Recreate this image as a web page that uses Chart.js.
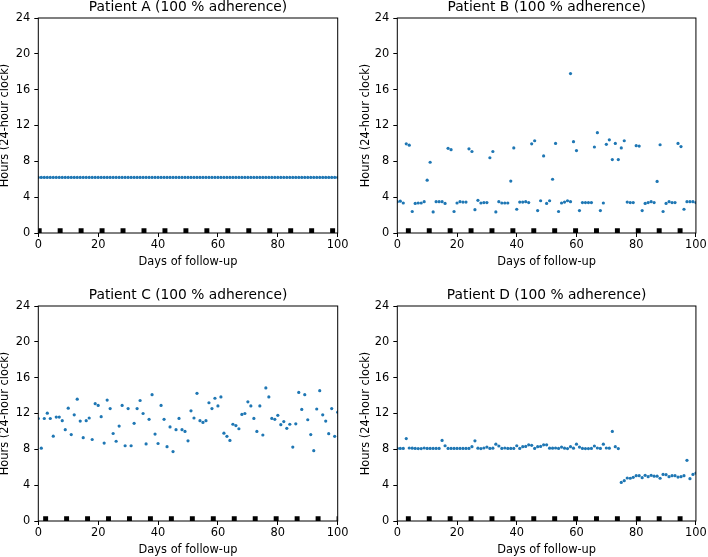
<!DOCTYPE html>
<html>
<head>
<meta charset="utf-8">
<script src="https://cdn.jsdelivr.net/npm/chart.js@4/dist/chart.umd.min.js"></script>
<style>
    body { margin: 0; background: #fff; }
    #wrap { position: relative; width: 708px; height: 557px; }
    canvas { position: absolute; }
</style>
</head>
<body>
<div id="wrap">
    <canvas id="chartA" width="354" height="269" style="left:0;top:0"></canvas>
    <canvas id="chartB" width="354" height="269" style="left:354px;top:0"></canvas>
    <canvas id="chartC" width="354" height="269" style="left:0;top:288px"></canvas>
    <canvas id="chartD" width="354" height="269" style="left:354px;top:288px"></canvas>
</div>
<script>
// days of follow-up (one dose per day)
const days = [0, 1, 2, 3, 4, 5, 6, 7, 8, 9, 10, 11, 12, 13, 14, 15, 16, 17, 18, 19,
    20, 21, 22, 23, 24, 25, 26, 27, 28, 29, 30, 31, 32, 33, 34, 35, 36, 37, 38, 39,
    40, 41, 42, 43, 44, 45, 46, 47, 48, 49, 50, 51, 52, 53, 54, 55, 56, 57, 58, 59,
    60, 61, 62, 63, 64, 65, 66, 67, 68, 69, 70, 71, 72, 73, 74, 75, 76, 77, 78, 79,
    80, 81, 82, 83, 84, 85, 86, 87, 88, 89, 90, 91, 92, 93, 94, 95, 96, 97, 98, 99, 100];

const hoursA = [6.2, 6.2, 6.2, 6.2, 6.2, 6.2, 6.2, 6.2, 6.2, 6.2, 6.2, 6.2, 6.2, 6.2, 6.2, 6.2, 6.2, 6.2, 6.2, 6.2,
    6.2, 6.2, 6.2, 6.2, 6.2, 6.2, 6.2, 6.2, 6.2, 6.2, 6.2, 6.2, 6.2, 6.2, 6.2, 6.2, 6.2, 6.2, 6.2, 6.2,
    6.2, 6.2, 6.2, 6.2, 6.2, 6.2, 6.2, 6.2, 6.2, 6.2, 6.2, 6.2, 6.2, 6.2, 6.2, 6.2, 6.2, 6.2, 6.2, 6.2,
    6.2, 6.2, 6.2, 6.2, 6.2, 6.2, 6.2, 6.2, 6.2, 6.2, 6.2, 6.2, 6.2, 6.2, 6.2, 6.2, 6.2, 6.2, 6.2, 6.2,
    6.2, 6.2, 6.2, 6.2, 6.2, 6.2, 6.2, 6.2, 6.2, 6.2, 6.2, 6.2, 6.2, 6.2, 6.2, 6.2, 6.2, 6.2, 6.2, 6.2, 6.2];

// patient B took two doses on day 58
const daysB = [0, 1, 2, 3, 4, 5, 6, 7, 8, 9, 10, 11, 12, 13, 14, 15, 16, 17, 18, 19,
    20, 21, 22, 23, 24, 25, 26, 27, 28, 29, 30, 31, 32, 33, 34, 35, 36, 37, 38, 39,
    40, 41, 42, 43, 44, 45, 46, 47, 48, 49, 50, 51, 52, 53, 54, 55, 56, 57, 58, 58, 59,
    60, 61, 62, 63, 64, 65, 66, 67, 68, 69, 70, 71, 72, 73, 74, 75, 76, 77, 78, 79,
    80, 81, 82, 83, 84, 85, 86, 87, 88, 89, 90, 91, 92, 93, 94, 95, 96, 97, 98, 99, 100];
const hoursB = [3.5, 3.55, 3.35, 9.95, 9.8, 2.4, 3.3, 3.35, 3.35, 3.5,
    5.9, 7.9, 2.35, 3.5, 3.5, 3.5, 3.3, 9.45, 9.3, 2.4,
    3.35, 3.5, 3.45, 3.45, 9.4, 9.1, 2.6, 3.65, 3.35, 3.4,
    3.4, 8.4, 9.1, 2.35, 3.5, 3.35, 3.35, 3.35, 5.8, 9.5,
    2.65, 3.45, 3.45, 3.5, 3.4, 9.95, 10.3, 2.5, 3.6, 8.6,
    3.3, 3.6, 6.0, 10.0, 2.4, 3.35, 3.45, 3.6, 3.5, 17.8, 10.2,
    9.2, 2.5, 3.4, 3.4, 3.4, 3.4, 9.6, 11.2, 2.5, 3.35,
    9.9, 10.4, 8.2, 10.0, 8.2, 9.5, 10.3, 3.45, 3.4, 3.4,
    9.75, 9.7, 2.5, 3.3, 3.4, 3.5, 3.4, 5.76, 9.85, 2.4,
    3.3, 3.5, 3.4, 3.4, 10.0, 9.65, 2.65, 3.5, 3.5, 3.5, 3.4];

const hoursC = [11.44, 8.13, 11.44, 12.04, 11.44, 9.47, 11.6, 11.6, 11.2, 10.2,
    12.6, 9.65, 11.85, 13.6, 11.15, 9.3, 11.2, 11.5, 9.1, 13.1,
    12.9, 11.65, 8.7, 13.5, 12.55, 9.77, 8.9, 10.6, 12.9, 8.4,
    12.55, 8.4, 10.9, 12.55, 13.45, 12.0, 8.6, 11.35, 14.1, 9.7,
    8.65, 12.9, 11.35, 8.3, 10.5, 7.75, 10.2, 11.45, 10.2, 10.0,
    8.95, 12.3, 11.5, 14.25, 11.2, 11.0, 11.2, 13.2, 12.55, 13.7,
    12.85, 13.85, 9.8, 9.45, 9.0, 10.8, 10.65, 10.3, 11.9, 12.0,
    13.3, 12.85, 11.45, 10.0, 12.85, 9.6, 14.85, 13.85, 11.45, 11.35,
    11.8, 10.75, 11.1, 10.35, 10.8, 8.25, 10.85, 14.35, 12.45, 14.1,
    11.3, 9.65, 7.85, 12.5, 14.55, 11.85, 11.15, 9.75, 12.55, 9.45, 12.15];

const hoursD = [8.1, 8.1, 8.1, 9.2, 8.15, 8.13, 8.1, 8.08, 8.08, 8.15,
    8.1, 8.1, 8.1, 8.1, 8.1, 9.0, 8.4, 8.1, 8.1, 8.1,
    8.1, 8.1, 8.1, 8.1, 8.1, 8.3, 8.95, 8.13, 8.08, 8.15,
    8.25, 8.1, 8.13, 8.58, 8.37, 8.1, 8.15, 8.1, 8.1, 8.1,
    8.4, 8.1, 8.3, 8.33, 8.5, 8.45, 8.1, 8.3, 8.33, 8.5,
    8.5, 8.13, 8.13, 8.15, 8.1, 8.25, 8.13, 8.08, 8.3, 8.13,
    8.58, 8.25, 8.1, 8.08, 8.08, 8.1, 8.37, 8.15, 8.1, 8.58,
    8.15, 8.13, 10.0, 8.3, 8.08, 4.31, 4.5, 4.8, 4.77, 4.88,
    5.06, 5.06, 4.84, 5.1, 4.95, 5.1, 5.0, 5.0, 4.77, 5.2,
    5.17, 4.95, 5.06, 5.06, 4.9, 4.95, 5.06, 6.77, 4.73, 5.2, 5.35];

// weekly visit markers (black squares on the x axis)
const visitsA = [0.3, 7.3, 14.3, 21.3, 28.3, 35.3, 42.3, 49.3, 56.3, 63.3, 70.3, 77.3, 84.3, 91.3, 98.3];
const visitsB = [3.7, 10.7, 17.7, 24.7, 31.7, 38.7, 45.7, 52.7, 59.7, 66.7, 73.7, 80.7, 87.7, 94.7];
const visitsC = [2.45, 9.45, 16.45, 23.45, 30.45, 37.45, 44.45, 51.45, 58.45, 65.45, 72.45, 79.45, 86.45, 93.45, 100.45];
const visitsD = [3.7, 10.7, 17.7, 24.7, 31.7, 38.7, 45.7, 52.7, 59.7, 66.7, 73.7, 80.7, 87.7, 94.7];
const visitLevel = 0.25;

const xTicks = [0, 20, 40, 60, 80, 100];
const yTicks = [0, 4, 8, 12, 16, 20, 24];

Chart.defaults.font.family = 'DejaVu Sans';
Chart.defaults.color = '#000';

// frame round the plot area plus the panel title centred over it
const framePlugin = {
    id: 'frame',
    afterDatasetsDraw(chart) {
        const a = chart.chartArea;
        const ctx = chart.ctx;
        ctx.save();
        ctx.strokeStyle = '#000';
        ctx.lineWidth = 1;
        ctx.strokeRect(a.left, a.top, a.right - a.left, a.bottom - a.top);
        ctx.restore();
    },
    afterDraw(chart) {
        const a = chart.chartArea;
        const ctx = chart.ctx;
        ctx.save();
        ctx.fillStyle = '#000';
        ctx.font = '13.8px "DejaVu Sans"';
        ctx.textAlign = 'center';
        ctx.textBaseline = 'middle';
        ctx.fillText(chart.options.panelTitle, (a.left + a.right) / 2, 7.5);
        ctx.restore();
    }
};

function makePanel(id, title, xs, ys, visits, padL, padR, yTitlePad) {
    new Chart(document.getElementById(id), {
        type: 'scatter',
        data: {
            datasets: [{
                data: xs.map((x, i) => ({ x: x, y: ys[i] })),
                pointRadius: 1.6,
                pointBackgroundColor: '#1f77b4',
                pointBorderWidth: 0
            }, {
                data: visits.map(x => ({ x: x, y: visitLevel })),
                pointStyle: 'rect',
                pointRadius: 3.5,
                pointBackgroundColor: '#000',
                pointBorderWidth: 0
            }]
        },
        options: {
            panelTitle: title,
            responsive: false,
            animation: false,
            events: [],
            layout: { padding: { top: 18, left: padL, right: padR, bottom: 0 } },
            scales: {
                x: {
                    min: 0,
                    max: 100,
                    afterFit: s => { s.height = 36; },
                    afterBuildTicks: s => { s.ticks = xTicks.map(v => ({ value: v })); },
                    border: { display: false },
                    grid: { drawOnChartArea: false, color: '#000', tickLength: 4 },
                    ticks: { font: { size: 11.4 }, padding: 1.2, maxRotation: 0 },
                    title: {
                        display: true,
                        text: 'Days of follow-up',
                        font: { size: 11.4 },
                        padding: { top: 0, bottom: 0.2 }
                    }
                },
                y: {
                    min: 0,
                    max: 24,
                    afterFit: s => { s.width = 38.3; },
                    afterBuildTicks: s => { s.ticks = yTicks.map(v => ({ value: v })); },
                    border: { display: false },
                    grid: { drawOnChartArea: false, color: '#000', tickLength: 4 },
                    ticks: { font: { size: 11.4 }, padding: 4 },
                    title: {
                        display: true,
                        text: 'Hours (24-hour clock)',
                        font: { size: 11.4, lineHeight: 1 },
                        padding: { top: yTitlePad, bottom: 0 }
                    }
                }
            },
            plugins: {
                legend: { display: false },
                tooltip: { enabled: false }
            }
        },
        plugins: [framePlugin]
    });
}

makePanel('chartA', 'Patient A (100 % adherence)', days, hoursA, visitsA, 0, 16.3, -0.5);
makePanel('chartB', 'Patient B (100 % adherence)', daysB, hoursB, visitsB, 5, 10.7, 1);
makePanel('chartC', 'Patient C (100 % adherence)', days, hoursC, visitsC, 0, 16.3, -0.5);
makePanel('chartD', 'Patient D (100 % adherence)', days, hoursD, visitsD, 5, 10.7, 1);
</script>
</body>
</html>
